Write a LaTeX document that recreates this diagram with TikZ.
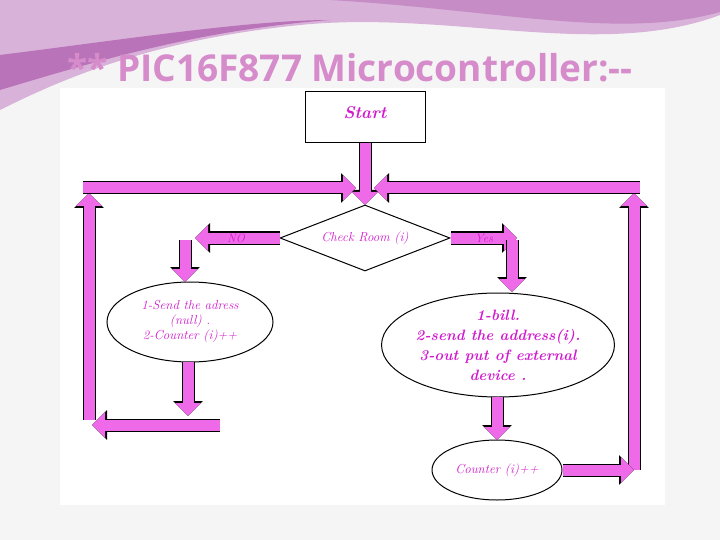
\documentclass[tikz,border=0pt]{standalone}
\usepackage{fontspec}
\newfontfamily\titlefont{Open Sans}
\usetikzlibrary{arrows.meta,shapes.geometric}
\definecolor{mag}{HTML}{EE6AE8}
\definecolor{txt}{HTML}{D21ACF}
\definecolor{ttl}{HTML}{D68BCB}
\tikzset{
 blk/.style={line width=11pt, draw=mag, -{Triangle[width=25pt,length=13pt]},
   preaction={draw=black,line width=13pt,-{Triangle[width=29pt,length=15pt]}}},
 lbl/.style={text=txt,font=\itshape},
}
\begin{document}
\begin{tikzpicture}[x=1pt,y=-1pt]
\useasboundingbox (0,0) rectangle (720,540);
\fill[gray!8] (0,0) rectangle (720,540);
\fill[white] (60,88) rectangle (665,505);
% swoosh
\fill[violet!30] (0,0) -- (720,0) -- (720,15) .. controls (600,60) and (450,10) .. (300,25) .. controls (150,40) and (60,80) .. (0,110) -- cycle;
\fill[violet!45] (330,0) -- (720,0) -- (720,12) .. controls (620,40) and (500,10) .. (330,0) -- cycle;
\fill[violet!55] (0,55) .. controls (120,40) and (250,20) .. (330,20) .. controls (200,30) and (100,60) .. (0,90) -- cycle;
\node[font=\titlefont\bfseries\fontsize{37}{40}\selectfont,text=ttl] (title) at (350,68) {** PIC16F877 Microcontroller:--};
% nodes
\node[draw,line width=1pt,minimum width=120pt,minimum height=51pt,fill=white] (start) at (365,117) {};
\node[lbl,font=\itshape\bfseries\fontsize{17}{19}\selectfont] at (365,113) {Start};
\node[diamond,draw,line width=1pt,fill=white,minimum width=170pt,minimum height=66pt,inner sep=0pt,aspect=2.6,lbl,font=\itshape\fontsize{13}{15}\selectfont] (dia) at (365,238) {Check Room (i)};
\node[ellipse,draw,line width=1pt,fill=white,minimum width=166pt,minimum height=80pt,inner sep=0pt,align=center,lbl,font=\itshape\fontsize{13}{15}\selectfont] (e1) at (190,322) {1-Send the adress\\(null) .\\2-Counter (i)++};
\node[ellipse,draw,line width=1pt,fill=white,minimum width=222pt,minimum height=104pt,inner sep=0pt,align=center,lbl,font=\itshape\bfseries\fontsize{15}{20}\selectfont] (e2) at (498,345) {1-bill.\\2-send the address(i).\\3-out put of external\\device .};
\node[ellipse,draw,line width=1pt,fill=white,minimum width=130pt,minimum height=60pt,inner sep=0pt,lbl,font=\itshape\fontsize{13}{15}\selectfont] (e3) at (497,470) {Counter (i)++};
% coordinates
\coordinate (top) at (365,205);
\coordinate (lb) at (89,420); \coordinate (lt) at (89,193);
\coordinate (rb) at (634,470); \coordinate (rt) at (634,193);
\coordinate (noT) at (195,238); \coordinate (yesT) at (517,238);
\coordinate (n1) at (185,240); \coordinate (n2) at (185,282);
\coordinate (e1b) at (188,362); \coordinate (e1c) at (188,416);
\coordinate (y1) at (512,240); \coordinate (y2) at (512,292);
\coordinate (e2b) at (497,397); \coordinate (e2c) at (497,440);
\coordinate (lh) at (220,425);
% connectors
\draw[blk] (start.south) -- (top);
\draw[blk] (lb) -- (lt);
\draw[blk] (83,188) -- (356,188);
\draw[blk] (rb) -- (rt);
\draw[blk] (640,188) -- (374,188);
\draw[blk] (dia.west) -- (noT);
\node[lbl,font=\itshape\fontsize{12}{14}\selectfont] at (236,238) {NO};
\draw[blk] (n1) -- (n2);
\draw[blk] (e1b) -- (e1c);
\draw[blk] (lh) -- (92,425);
\draw[blk] (dia.east) -- (yesT);
\node[lbl,font=\itshape\fontsize{12}{14}\selectfont] at (484,238) {Yes};
\draw[blk] (y1) -- (y2);
\draw[blk] (e2b) -- (e2c);
\draw[blk] (e3.east) -- (rb);
\end{tikzpicture}
\end{document}
